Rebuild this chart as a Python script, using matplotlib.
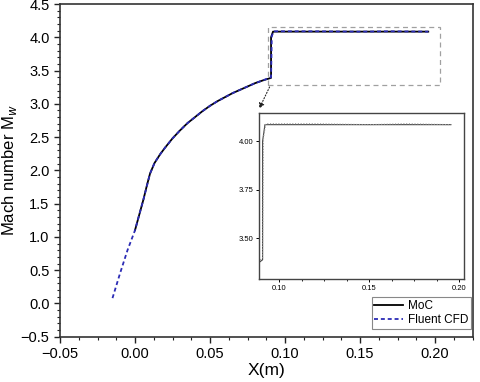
import matplotlib
matplotlib.use("Agg")
import matplotlib.pyplot as plt
from matplotlib.ticker import MultipleLocator, FuncFormatter
from matplotlib.patches import Rectangle

plt.rcParams['font.family'] = ['Liberation Sans', 'DejaVu Sans']

# MoC data (solid)
moc_x = [0.0, 0.0028, 0.0056, 0.008, 0.010, 0.013, 0.0167, 0.02, 0.025, 0.03, 0.035, 0.04,
         0.045, 0.05, 0.055, 0.06, 0.065, 0.07, 0.075, 0.08, 0.085, 0.0907, 0.0907,
         0.0920, 0.1200, 0.1500, 0.1700, 0.1955]
moc_y = [1.10, 1.33, 1.56, 1.78, 1.95, 2.11, 2.24, 2.34, 2.48, 2.60, 2.71, 2.80,
         2.89, 2.97, 3.04, 3.10, 3.16, 3.21, 3.26, 3.31, 3.35, 3.39, 4.00,
         4.085, 4.085, 4.085, 4.085, 4.085]

# Fluent CFD data (dashed)
cfd_x = [-0.015, -0.010, -0.005, 0.0, 0.0056, 0.010, 0.013, 0.0167, 0.02, 0.025, 0.03,
         0.035, 0.04, 0.045, 0.05, 0.055, 0.06, 0.065, 0.07, 0.075, 0.08, 0.085, 0.0907,
         0.0912, 0.0925, 0.1200, 0.1500, 0.1700, 0.1955]
cfd_y = [0.08, 0.45, 0.80, 1.10, 1.56, 1.95, 2.11, 2.24, 2.34, 2.48, 2.60,
         2.71, 2.80, 2.89, 2.97, 3.04, 3.10, 3.16, 3.21, 3.26, 3.31, 3.35, 3.40,
         4.02, 4.09, 4.09, 4.085, 4.09, 4.085]


def fmt(n):
    return FuncFormatter(lambda v, p: ('%.*f' % (n, v)).replace('-', '\u2212'))


fig = plt.figure(figsize=(4.8, 3.82), dpi=100)
ax = fig.add_axes([0.125, 0.1186, 0.8594, 0.8709])

ax.plot(moc_x, moc_y, color='black', lw=1.3, label='MoC')
ax.plot(cfd_x, cfd_y, color='#2b2bb5', lw=1.3, ls=(0, (2.2, 1.6)), label='Fluent CFD')

ax.set_xlim(-0.05, 0.225)
ax.set_ylim(-0.5, 4.5)
ax.xaxis.set_major_locator(MultipleLocator(0.05))
ax.xaxis.set_minor_locator(MultipleLocator(0.0125))
ax.yaxis.set_major_locator(MultipleLocator(0.5))
ax.yaxis.set_minor_locator(MultipleLocator(0.1))
ax.xaxis.set_major_formatter(fmt(2))
ax.yaxis.set_major_formatter(fmt(1))
ax.tick_params(which='major', direction='out', length=4, width=1, labelsize=10.5, color='#222')
ax.tick_params(which='minor', direction='out', length=2.5, width=0.8, color='#222')
for s in ax.spines.values():
    s.set_linewidth(1.2)
    s.set_color('#333')

ax.set_xlabel('X(m)', fontsize=12.5, labelpad=1)
ax.set_ylabel('Mach number M$_w$', fontsize=12, labelpad=1)

# dashed zoom rectangle
ax.add_patch(Rectangle((0.0885, 3.29), 0.203 - 0.0885, 4.15 - 3.29, fill=False,
                       ls=(0, (4, 3)), lw=0.9, ec='#a0a0a0'))
ax.annotate('', xy=(0.5375, 0.709), xycoords='figure fraction',
            xytext=(0.0905, 3.29), textcoords='data',
            arrowprops=dict(arrowstyle='-|>', linestyle=':', color='#222', lw=0.8,
                            mutation_scale=8))

leg = ax.legend(loc='lower right', bbox_to_anchor=(0.981, 0.1387),
                bbox_transform=fig.transFigure, fontsize=8.5, frameon=True,
                fancybox=False, framealpha=1, edgecolor='#888', handlelength=2.4,
                borderpad=0.25, labelspacing=0.15, handletextpad=0.4, borderaxespad=0)
leg.get_frame().set_linewidth(0.8)

# inset
axi = fig.add_axes([0.5396, 0.2696, 0.4271, 0.4346])
axi.plot(moc_x, moc_y, color='#444', lw=0.8)
axi.plot(cfd_x, cfd_y, color='#999', lw=0.8, ls=(0, (1, 1.5)))
axi.set_xlim(0.0887, 0.2028)
axi.set_ylim(3.291, 4.145)
axi.xaxis.set_major_locator(MultipleLocator(0.05))
axi.xaxis.set_minor_locator(MultipleLocator(0.0125))
axi.yaxis.set_major_locator(MultipleLocator(0.25))
axi.xaxis.set_major_formatter(fmt(2))
axi.yaxis.set_major_formatter(fmt(2))
axi.tick_params(which='major', direction='out', length=2.5, width=0.7, labelsize=5.5, pad=1.5)
axi.tick_params(which='minor', direction='out', length=1.5, width=0.6)
for s in axi.spines.values():
    s.set_linewidth(1.0)
    s.set_color('#444')

fig.savefig('out.png', dpi=100)
